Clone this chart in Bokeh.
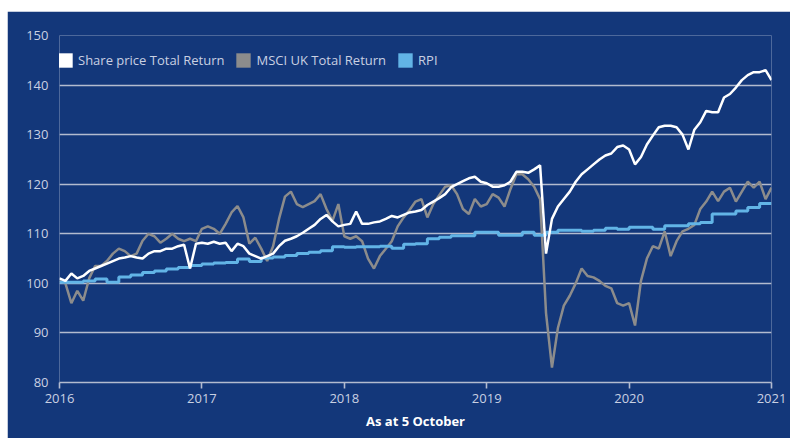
from bokeh.plotting import figure
from bokeh.models import Range1d, FixedTicker, Legend, LegendItem, ColumnDataSource
from bokeh.embed import file_html
from bokeh.resources import INLINE

# Half-monthly readings, 2016 -> 2021 (rebased to 100)
share_tr = [101, 100.5, 102, 101, 101.5, 102.5, 103, 103.5, 104, 104.5,
            105, 105.2, 105.5, 105.2, 105, 106, 106.5, 106.5, 107, 107,
            107.5, 107.8, 103, 108, 108.2, 108, 108.4, 108, 108.2, 106.5,
            108, 107.5, 106, 105.5, 105, 105.5, 106, 107.5, 108.6, 109,
            109.5, 110.2, 111, 111.8, 113, 113.8, 112.5, 111.5, 111.8, 112,
            114.5, 112, 112, 112.3, 112.5, 113, 113.6, 113.3, 113.8, 114.3,
            114.5, 114.8, 115.8, 116.5, 117.2, 118, 119.4, 120, 120.6, 121.2,
            121.5, 120.5, 120.2, 119.5, 119.5, 119.8, 120.5, 122.5, 122.5, 122.3,
            123, 123.8, 106, 113, 115.5, 117, 118.5, 120.5, 122, 123,
            124, 125, 125.8, 126.2, 127.5, 127.8, 127, 124, 125.5, 128,
            129.8, 131.5, 131.8, 131.8, 131.5, 130, 127, 131, 132.5, 134.8,
            134.5, 134.5, 137.5, 138.2, 139.5, 141, 142, 142.6, 142.6, 143,
            141]

msci_uk_tr = [100.5, 100, 96, 98.5, 96.5, 101, 103.5, 103.5, 104.5, 106,
              107, 106.5, 105.5, 106, 108.6, 110, 109.5, 108.2, 109, 110,
              109, 108.5, 109, 108.5, 111, 111.5, 111, 110, 112, 114.3,
              115.6, 113.3, 108, 109.2, 107, 104.5, 107.5, 113, 117.5, 118.5,
              116, 115.4, 116, 116.6, 118, 115, 112.6, 116, 109.5, 109,
              109.5, 108.5, 105, 103, 105.5, 107, 108.5, 111.5, 113.3, 114.8,
              116.5, 117, 113.3, 116, 117.8, 119.5, 119.8, 118, 115, 114,
              117, 115.5, 116, 118, 117.3, 115.5, 119, 122, 122, 121,
              119.5, 117, 94, 83, 91, 95.5, 97.5, 100, 103, 101.5,
              101.2, 100.5, 99.5, 99, 96, 95.5, 96, 91.5, 100.5, 105,
              107.5, 107, 110.5, 105.5, 108.5, 110.5, 111, 111.8, 115, 116.5,
              118.5, 116.6, 118.5, 119.3, 116.5, 118.5, 120.5, 119.3, 120.5, 117,
              119.3]

# Monthly RPI steps
rpi = [100.2, 100.2, 100.5, 100.9, 100.2, 101.3, 101.7, 102.2, 102.5, 102.9,
       103.2, 103.6, 103.9, 104.1, 104.2, 104.9, 104.4, 105.1, 105.3, 105.6,
       106.0, 106.3, 106.6, 107.4, 107.3, 107.4, 107.4, 107.5, 107.1, 107.9,
       108.0, 109.0, 109.3, 109.6, 109.6, 110.3, 110.3, 109.7, 109.7, 110.3,
       109.7, 110.3, 110.7, 110.7, 110.5, 110.7, 111.1, 110.9, 111.3, 111.3,
       110.9, 111.6, 111.6, 112.0, 112.3, 114.0, 114.0, 114.6, 115.3, 116.1]

years = [2016, 2017, 2018, 2019, 2020, 2021]
y_ticks = [80, 90, 100, 110, 120, 130, 140, 150]
series_names = ["Share price Total Return", "MSCI UK Total Return", "RPI"]

BG = "#13377a"
GRID = "#b3bbcf"
LABEL = "#c9d0e2"
WHITE = "#ffffff"
GREY = "#8c8c8c"
BLUE = "#62b4e6"
FONT = "Open Sans"

t_half = [2016 + i / 24 for i in range(len(share_tr))]
t_month = [2016 + i / 12 for i in range(len(rpi))] + [2021]
rpi_ext = rpi + [rpi[-1]]

p = figure(width=783, height=427, output_backend="svg", toolbar_location=None,
           x_range=Range1d(2016, 2021), y_range=Range1d(80, 150),
           background_fill_color=BG, border_fill_color=BG,
           min_border_left=52, min_border_right=19, min_border_top=24,
           min_border_bottom=56, margin=(11, 0, 0, 7))
p.outline_line_color = None

p.xgrid.grid_line_color = None
p.ygrid.ticker = FixedTicker(ticks=y_ticks)
p.ygrid.grid_line_color = GRID
p.ygrid.grid_line_width = 1.6

p.yaxis.ticker = FixedTicker(ticks=y_ticks)
p.yaxis.axis_line_color = None
p.yaxis.major_tick_line_color = None
p.yaxis.minor_tick_line_color = None
p.yaxis.major_tick_out = 0
p.yaxis.major_tick_in = 0
p.yaxis.major_label_standoff = 11
p.yaxis.major_label_text_color = LABEL
p.yaxis.major_label_text_font = FONT
p.yaxis.major_label_text_font_size = "13px"

p.xaxis.ticker = FixedTicker(ticks=years)
p.xaxis.major_label_overrides = {y: str(y) for y in years}
p.xaxis.axis_line_color = GRID
p.xaxis.axis_line_width = 1.6
p.xaxis.major_tick_line_color = GRID
p.xaxis.major_tick_line_width = 1.6
p.xaxis.major_tick_out = 6
p.xaxis.major_tick_in = 0
p.xaxis.minor_tick_line_color = None
p.xaxis.major_label_standoff = 5
p.xaxis.major_label_text_color = LABEL
p.xaxis.major_label_text_font = FONT
p.xaxis.major_label_text_font_size = "13px"
p.xaxis.axis_label = "As at 5 October"
p.xaxis.axis_label_text_color = WHITE
p.xaxis.axis_label_text_font = FONT
p.xaxis.axis_label_text_font_style = "bold"
p.xaxis.axis_label_text_font_size = "13px"
p.xaxis.axis_label_standoff = 6

p.line(t_half, msci_uk_tr, line_color=GREY, line_width=2.5)
p.step(t_month, rpi_ext, mode="after", line_color=BLUE, line_width=3)
p.line(t_half, share_tr, line_color=WHITE, line_width=2.5)

# legend swatches (square patches kept outside the visible ranges)
sw = []
for c in [WHITE, GREY, BLUE]:
    src = ColumnDataSource(dict(left=[2100], right=[2101], top=[300], bottom=[299]))
    sw.append(p.quad(source=src, left="left", right="right", top="top",
                     bottom="bottom", fill_color=c, line_color=None))

legend = Legend(items=[LegendItem(label=n, renderers=[r]) for n, r in zip(series_names, sw)],
                orientation="horizontal", location=(-3, 313),
                background_fill_alpha=0, border_line_color=None,
                padding=0, margin=0, spacing=10, label_standoff=4,
                glyph_width=18, glyph_height=18,
                label_text_color=LABEL, label_text_font=FONT,
                label_text_font_size="13px", label_height=18)
p.add_layout(legend)

open("out.html", "w").write(file_html(p, INLINE))
